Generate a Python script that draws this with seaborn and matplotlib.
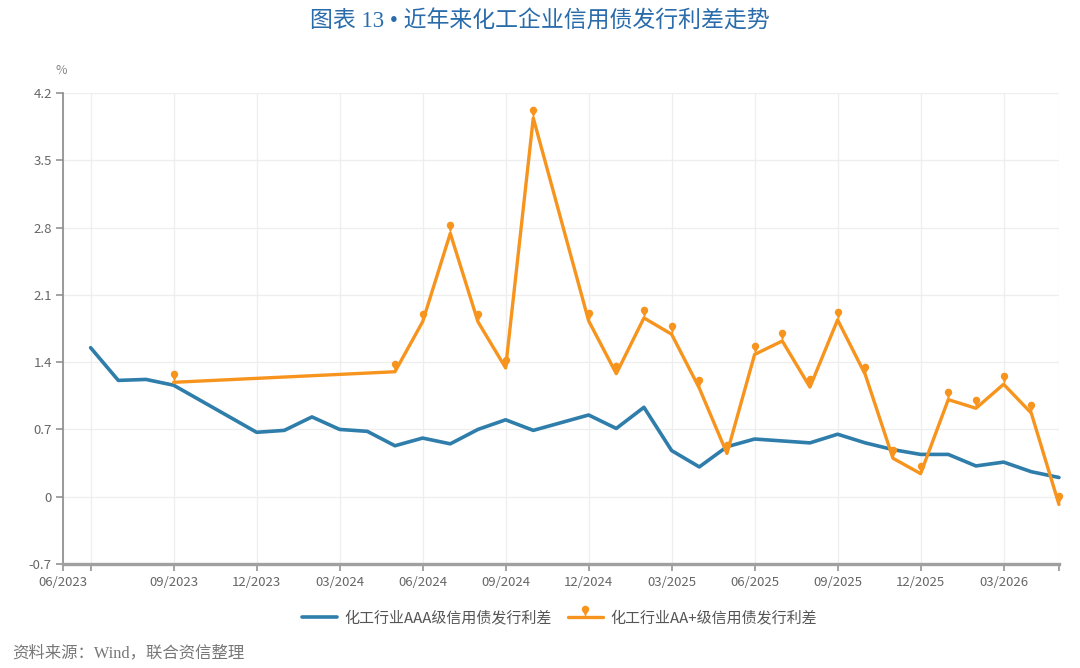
import numpy as np
import pandas as pd
import seaborn as sns
import matplotlib
matplotlib.use("Agg")
import matplotlib.pyplot as plt
from matplotlib.path import Path
from matplotlib.markers import MarkerStyle

# AAA spread, monthly (%), months without issuance are left out
aaa_months = ["2023-06", "2023-07", "2023-08", "2023-09", "2023-12", "2024-01",
              "2024-02", "2024-03", "2024-04", "2024-05", "2024-06", "2024-07",
              "2024-08", "2024-09", "2024-10", "2024-12", "2025-01", "2025-02",
              "2025-03", "2025-04", "2025-05", "2025-06", "2025-07", "2025-08",
              "2025-09", "2025-10", "2025-11", "2025-12", "2026-01", "2026-02",
              "2026-03", "2026-04", "2026-05"]
aaa_values = [1.55, 1.21, 1.22, 1.16, 0.67, 0.69, 0.83, 0.70, 0.68, 0.53,
              0.61, 0.55, 0.70, 0.80, 0.69, 0.85, 0.71, 0.93, 0.48, 0.31,
              0.52, 0.60, 0.58, 0.56, 0.65, 0.56, 0.49, 0.44, 0.44, 0.32,
              0.36, 0.26, 0.20]

# AA+ spread, monthly (%)
aap_months = ["2023-09", "2024-05", "2024-06", "2024-07", "2024-08", "2024-09",
              "2024-10", "2024-12", "2025-01", "2025-02", "2025-03", "2025-04",
              "2025-05", "2025-06", "2025-07", "2025-08", "2025-09", "2025-10",
              "2025-11", "2025-12", "2026-01", "2026-02", "2026-03", "2026-04",
              "2026-05"]
aap_values = [1.19, 1.30, 1.82, 2.74, 1.82, 1.34, 3.94, 1.83, 1.28, 1.86,
              1.69, 1.13, 0.45, 1.48, 1.62, 1.14, 1.84, 1.27, 0.40, 0.24,
              1.01, 0.92, 1.17, 0.87, -0.08]

aaa_label = "化工行业AAA级信用债发行利差"
aap_label = "化工行业AA+级信用债发行利差"
x_labels = ["06/2023", "09/2023", "12/2023", "03/2024", "06/2024", "09/2024",
            "12/2024", "03/2025", "06/2025", "09/2025", "12/2025", "03/2026"]
y_ticks = [-0.7, 0, 0.7, 1.4, 2.1, 2.8, 3.5, 4.2]

BLUE = "#2e7daa"
ORANGE = "#f7941d"
GRAY = "#666666"

start = pd.Period("2023-06", freq="M")


def month_index(months):
    return [(pd.Period(m, freq="M") - start).n for m in months]


aaa = pd.DataFrame({"x": month_index(aaa_months), "spread": aaa_values})
aap = pd.DataFrame({"x": month_index(aap_months), "spread": aap_values})

# pin shaped marker: dot sitting above the data point
circle = Path.circle((0, 2.2), 1.0)
tip = Path([(0, 0), (0.55, 1.55), (-0.55, 1.55), (0, 0)],
           [Path.MOVETO, Path.LINETO, Path.LINETO, Path.CLOSEPOLY])
pin = MarkerStyle(Path.make_compound_path(circle, tip))

sns.set_theme(style="white")
plt.rcParams["font.family"] = ["Noto Sans CJK SC", "DejaVu Sans"]
plt.rcParams["axes.unicode_minus"] = False

fig = plt.figure(figsize=(10.8, 6.68), dpi=100)
ax = fig.add_axes([0.0583, 0.1557, 0.9222, 0.7051])

sns.lineplot(data=aaa, x="x", y="spread", ax=ax, color=BLUE, lw=2.6,
             label=aaa_label, clip_on=False)
sns.lineplot(data=aap, x="x", y="spread", ax=ax, color=ORANGE, lw=2.4,
             marker=pin, markersize=17, markeredgewidth=0, label=aap_label,
             clip_on=False)

ax.set_xlim(-1, 35)
ax.set_ylim(-0.7, 4.2)
tick_pos = [-1, 0] + list(range(3, 34, 3)) + [35]
ax.set_xticks(tick_pos)
ax.set_xticklabels([x_labels[0], ""] + x_labels[1:] + [""])
ax.set_yticks(y_ticks)
ax.set_yticklabels([f"{v:g}" for v in y_ticks])
ax.set_xlabel("")
ax.set_ylabel("")

ax.grid(True, color="#eeeeee", lw=0.9)
ax.set_axisbelow(True)
for side in ["top", "right"]:
    ax.spines[side].set_visible(False)
ax.spines["left"].set_color("#8a8a8a")
ax.spines["left"].set_linewidth(1.2)
ax.spines["bottom"].set_color("#a0a0a0")
ax.spines["bottom"].set_linewidth(2.4)
ax.tick_params(axis="both", which="both", length=5, width=1.1,
               color="#8a8a8a", labelsize=9.5, labelcolor=GRAY, pad=3)
ax.tick_params(axis="x", bottom=True, pad=4)
ax.tick_params(axis="y", left=True)

ax.legend_.remove()
handles, labels = ax.get_legend_handles_labels()
fig.legend(handles, labels, loc="center", bbox_to_anchor=(0.518, 0.075),
           ncol=2, frameon=False, fontsize=10.8, handlelength=2.3,
           columnspacing=1.1, handletextpad=0.5, labelcolor="#555555")

fig.text(0.5, 0.968, "图表 13 • 近年来化工企业信用债发行利差走势",
         ha="center", va="center", fontsize=16.5, color="#2a6cab",
         family=["Liberation Serif", "Noto Sans CJK SC"])
fig.text(0.057, 0.895, "%", ha="center", va="center", fontsize=9,
         color="#888888")
fig.text(0.011, 0.022, "资料来源：Wind，联合资信整理", ha="left",
         va="center", fontsize=11.8, color="#777777",
         family=["Liberation Serif", "Noto Sans CJK SC"])

fig.savefig("out.png", dpi=100)
